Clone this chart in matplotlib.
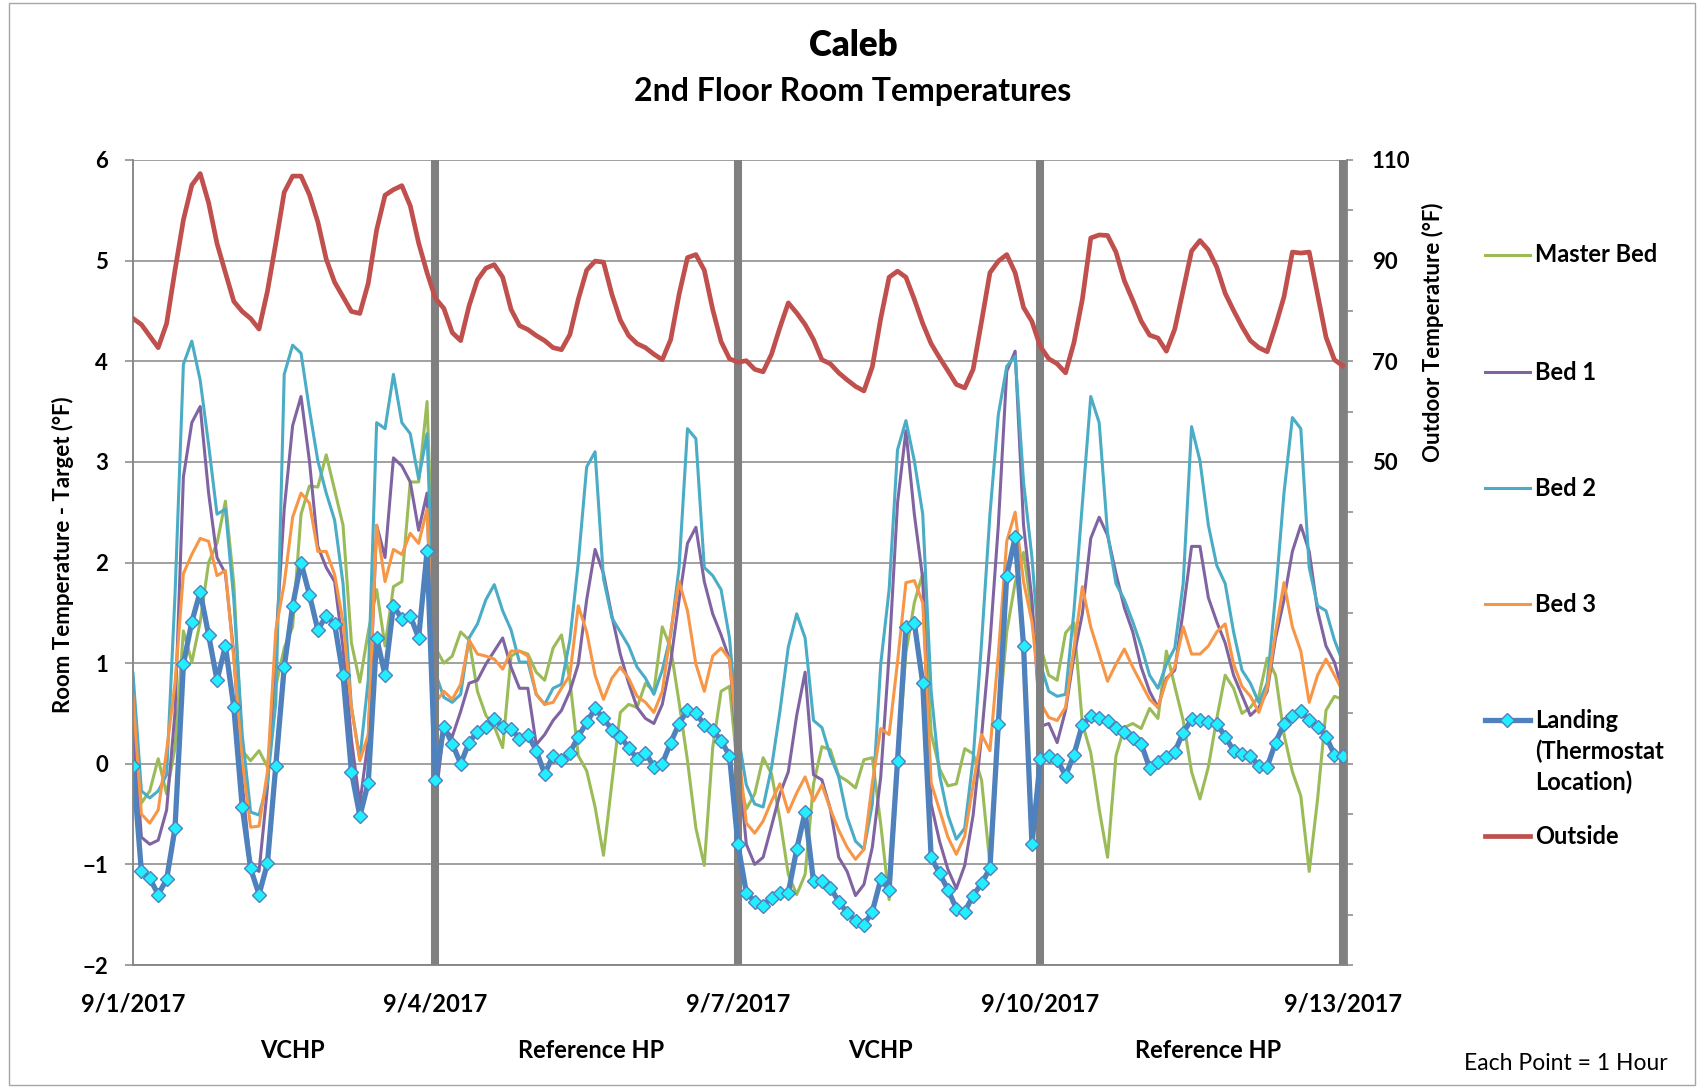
import numpy as np
import matplotlib
matplotlib.use("Agg")
from matplotlib import pyplot as plt
from matplotlib.lines import Line2D
from matplotlib.patches import Rectangle
import matplotlib.transforms as mtransforms

# readings every 2 hours from 9/1/2017 00:00 to 9/13/2017 00:00
hours = np.arange(0, 289, 2)

master_bed = [
    0.29, -0.39, -0.27, 0.05, -0.3, 0.16, 1.32, 1.01, 1.41, 2.0, 2.19, 2.61, 1.79, 0.13, 0.03, 0.13, -0.03, 0.77, 1.15,
    1.36, 2.48, 2.76, 2.75, 3.07, 2.72, 2.37, 1.2, 0.81, 1.31, 1.73, 1.17, 1.76, 1.81, 2.8, 2.8, 3.6, 1.15,
    1.0, 1.07, 1.31, 1.23, 0.72, 0.48, 0.37, 0.16, 1.07, 1.12, 1.09, 0.91, 0.83, 1.15, 1.28, 0.83, 0.08, -0.07,
    -0.43, -0.91, -0.19, 0.51, 0.59, 0.56, 0.8, 0.72, 1.36, 1.15, 0.61, 0.03, -0.64, -1.01, 0.16, 0.72, 0.77, -0.1,
    -0.45, -0.3, 0.06, -0.1, -0.55, -1.1, -1.3, -1.1, -0.2, 0.17, 0.14, -0.12, -0.17, -0.24, 0.04, 0.06, -0.6, -1.35,
    -0.05, 1.1, 1.6, 1.89, 0.3, -0.05, -0.22, -0.2, 0.15, 0.1, -0.16, -1.0, 0.35, 1.31, 1.8, 2.1, 1.5, 1.17,
    0.88, 0.83, 1.3, 1.4, 0.4, 0.11, -0.45, -0.93, 0.08, 0.36, 0.4, 0.35, 0.55, 0.45, 1.12, 0.77, 0.43, -0.08,
    -0.35, -0.03, 0.45, 0.88, 0.75, 0.5, 0.56, 0.67, 1.05, 0.88, 0.29, -0.08, -0.32, -1.07, -0.35, 0.53, 0.67, 0.64,
]
bed_1 = [
    0.4, -0.73, -0.8, -0.76, -0.46, 0.51, 2.85, 3.39, 3.55, 2.69, 2.05, 1.89, 1.09, -0.19, -1.02, -1.07, -0.24, 1.2,
    2.53, 3.36, 3.65, 3.01, 2.16, 1.95, 1.81, 1.15, 0.24, -0.4, 0.24, 2.37, 2.05, 3.04, 2.96, 2.8, 2.32, 2.69, -0.37,
    0.35, 0.27, 0.52, 0.8, 0.83, 0.99, 1.12, 1.25, 0.96, 0.75, 0.75, 0.19, 0.29, 0.43, 0.53, 0.72, 0.99, 1.63,
    2.13, 1.89, 1.47, 1.09, 0.8, 0.56, 0.45, 0.4, 0.59, 1.01, 1.63, 2.19, 2.35, 1.81, 1.49, 1.28, 1.04, 0.08,
    -0.8, -1.0, -0.93, -0.62, -0.3, -0.08, 0.48, 0.91, -0.11, -0.16, -0.45, -0.93, -1.07, -1.31, -1.2, -0.83, -0.13,
    1.09, 2.59, 3.31, 2.48, 1.84, -0.4, -0.77, -1.05, -1.24, -1.01, -0.51, 0.27, 1.2, 2.37, 3.9, 4.1, 2.37, 1.63, 0.37,
    0.4, 0.21, 0.53, 1.07, 1.49, 2.24, 2.45, 2.27, 1.89, 1.55, 1.31, 0.96, 0.72, 0.56, 0.85, 0.93, 1.52, 2.16,
    2.16, 1.65, 1.41, 1.2, 0.88, 0.68, 0.48, 0.56, 0.72, 1.25, 1.63, 2.11, 2.37, 2.11, 1.52, 1.17, 1.01, 0.72,
]
bed_2 = [
    0.9, -0.27, -0.34, -0.27, -0.11, 1.68, 3.97, 4.2, 3.81, 3.17, 2.48, 2.53, 1.63, 0.29, -0.48, -0.51, -0.19, 0.61,
    3.87, 4.16, 4.08, 3.52, 3.01, 2.69, 2.42, 1.79, 0.56, 0.05, 0.83, 3.39, 3.33, 3.87, 3.39, 3.28, 2.83, 3.28, 0.9,
    0.66, 0.61, 0.69, 1.25, 1.39, 1.63, 1.78, 1.52, 1.33, 1.01, 1.01, 0.69, 0.59, 0.75, 0.79, 1.23, 2.0, 2.95,
    3.1, 1.84, 1.45, 1.31, 1.17, 0.96, 0.85, 0.69, 0.93, 1.28, 1.95, 3.33, 3.23, 1.95, 1.87, 1.73, 1.25, 0.3,
    -0.21, -0.4, -0.43, -0.04, 0.52, 1.16, 1.49, 1.25, 0.43, 0.36, 0.08, -0.13, -0.53, -0.77, -0.85, -0.4, 0.99,
    1.73, 3.12, 3.41, 3.01, 2.48, 0.72, -0.11, -0.51, -0.75, -0.64, 0.05, 1.2, 2.48, 3.47, 3.95, 4.05, 2.8, 2.05, 0.99,
    0.72, 0.67, 0.69, 1.52, 2.59, 3.65, 3.39, 2.29, 1.79, 1.63, 1.41, 1.17, 0.88, 0.75, 0.99, 1.15, 1.79, 3.35,
    3.01, 2.37, 1.97, 1.79, 1.31, 0.93, 0.8, 0.61, 0.8, 1.68, 2.69, 3.44, 3.33, 1.95, 1.57, 1.52, 1.23, 1.01,
]
bed_3 = [
    0.67, -0.5, -0.59, -0.46, 0.13, 0.8, 1.89, 2.08, 2.24, 2.21, 1.87, 1.92, 1.04, 0.03, -0.63, -0.62, -0.08, 1.33,
    1.79, 2.45, 2.69, 2.59, 2.11, 2.11, 1.88, 1.41, 0.56, 0.03, 0.29, 2.37, 1.81, 2.13, 2.08, 2.29, 2.19, 2.53, 0.61,
    0.72, 0.64, 0.79, 1.23, 1.09, 1.07, 1.04, 0.94, 1.12, 1.12, 1.07, 0.69, 0.59, 0.61, 0.75, 0.88, 1.57, 1.31,
    0.88, 0.64, 0.85, 0.96, 0.85, 0.67, 0.61, 0.51, 0.72, 1.31, 1.81, 1.52, 0.99, 0.72, 1.07, 1.15, 1.04, 0.19,
    -0.59, -0.69, -0.57, -0.37, -0.2, -0.48, -0.29, -0.13, -0.37, -0.21, -0.45, -0.66, -0.83, -0.95, -0.85, -0.19,
    0.35, 0.29, 1.01, 1.8, 1.82, 1.6, -0.19, -0.46, -0.73, -0.9, -0.72, -0.21, 0.29, 0.13, 1.09, 2.21, 2.5, 1.81,
    1.41, 0.61,
    0.46, 0.43, 0.56, 1.15, 1.76, 1.36, 1.09, 0.82, 0.99, 1.14, 0.96, 0.8, 0.64, 0.56, 0.83, 0.96, 1.36, 1.09,
    1.09, 1.17, 1.31, 1.39, 0.99, 0.77, 0.67, 0.51, 0.75, 1.31, 1.8, 1.36, 1.12, 0.61, 0.88, 1.04, 0.88, 0.72,
]
landing = [
    -0.02, -1.07, -1.14, -1.3, -1.15, -0.64, 0.99, 1.41, 1.71, 1.28, 0.83, 1.17, 0.56, -0.43, -1.04, -1.3, -0.99,
    -0.02, 0.96, 1.57, 2.0, 1.68, 1.33, 1.47, 1.39, 0.88, -0.08, -0.52, -0.19, 1.25, 0.88, 1.57, 1.44, 1.47, 1.25,
    2.11, -0.16,
    0.37, 0.2, 0.0, 0.21, 0.32, 0.37, 0.44, 0.37, 0.35, 0.25, 0.29, 0.13, -0.1, 0.08, 0.04, 0.11, 0.27, 0.41,
    0.55, 0.45, 0.34, 0.27, 0.16, 0.05, 0.11, -0.03, 0.0, 0.21, 0.4, 0.53, 0.5, 0.39, 0.34, 0.23, 0.08, -0.8,
    -1.28, -1.37, -1.41, -1.33, -1.28, -1.28, -0.85, -0.48, -1.17, -1.17, -1.23, -1.37, -1.48, -1.56, -1.6, -1.47,
    -1.15, -1.25, 0.03, 1.36, 1.4, 0.8, -0.93, -1.09, -1.25, -1.44, -1.47, -1.31, -1.19, -1.04, 0.4, 1.87, 2.25,
    1.17, -0.8, 0.05,
    0.08, 0.04, -0.12, 0.09, 0.39, 0.47, 0.45, 0.42, 0.36, 0.32, 0.26, 0.2, -0.04, 0.02, 0.07, 0.12, 0.31, 0.44,
    0.43, 0.41, 0.4, 0.27, 0.13, 0.1, 0.08, -0.02, -0.03, 0.21, 0.4, 0.47, 0.52, 0.43, 0.37, 0.27, 0.09, 0.08,
]
outside = [
    78.5, 77.3, 75.0, 72.7, 77.5, 88.1, 98.1, 105.0, 107.3, 101.5, 93.4, 87.6, 81.9, 79.9, 78.5, 76.4, 83.9, 93.5,
    103.6, 106.8, 106.8, 103.1, 97.7, 90.3, 85.7, 82.8, 79.9, 79.5, 85.5, 96.1, 103.0, 104.1, 104.9, 100.9, 93.5,
    87.6, 82.5,
    80.5, 75.7, 74.1, 81.0, 86.2, 88.5, 89.2, 86.7, 80.3, 77.1, 76.3, 75.1, 74.1, 72.7, 72.3, 75.3, 82.3, 88.1,
    89.9, 89.7, 83.3, 78.2, 75.1, 73.5, 72.7, 71.4, 70.3, 74.3, 83.3, 90.6, 91.2, 88.1, 80.3, 73.9, 70.5, 69.8,
    70.1, 68.4, 67.9, 71.4, 76.7, 81.6, 79.6, 77.3, 74.3, 70.3, 69.5, 67.7, 66.3, 65.0, 64.1, 68.9, 78.5, 86.7,
    87.9, 86.7, 82.3, 77.5, 73.5, 70.7, 68.1, 65.4, 64.7, 68.4, 77.9, 87.6, 89.9, 91.2, 87.6, 80.7, 77.9, 72.9,
    70.5, 69.5, 67.7, 73.7, 82.3, 94.5, 95.1, 95.0, 91.7, 86.0, 82.1, 78.0, 75.2, 74.6, 72.0, 76.4, 84.1, 91.9,
    94.0, 92.1, 88.7, 83.5, 80.1, 76.9, 74.1, 72.7, 71.9, 77.1, 82.8, 91.7, 91.5, 91.7, 83.3, 74.8, 70.3, 69.1,
]

date_hours = [0, 72, 144, 216, 288]
date_labels = ["9/1/2017", "9/4/2017", "9/7/2017", "9/10/2017", "9/13/2017"]
switch_hours = [72, 144, 216, 288]
period_names = ["VCHP", "Reference HP", "VCHP", "Reference HP"]
period_hours = [38, 109, 178, 256]

GRAY = "#868686"
FONT = ["Lato", "DejaVu Sans"]
plt.rcParams["font.family"] = FONT

W, H = 1704, 1088
fig = plt.figure(figsize=(W / 100, H / 100), dpi=100)
ax = fig.add_axes([133 / W, 1 - 965 / H, (1347 - 133) / W, (965 - 160) / H])
ax2 = ax.twinx()

series = [
    ("Master Bed", master_bed, "#9BBB59"),
    ("Bed 1", bed_1, "#8064A2"),
    ("Bed 2", bed_2, "#4BACC6"),
    ("Bed 3", bed_3, "#F79646"),
]
for name, vals, col in series:
    ax.plot(hours, vals, color=col, lw=2.2, zorder=3, solid_joinstyle="round")
ax.plot(hours, landing, color="#4F81BD", lw=3.8, marker="D", ms=7.0,
        mfc="#22EEFF", mec="#4F81BD", mew=1.0, zorder=5)
ax2.plot(hours, outside, color="#C0504D", lw=3.4, zorder=3, solid_joinstyle="round")

for h in switch_hours:
    ax.axvline(h, color="#808080", lw=5.8, zorder=4)

ax.set_xlim(0, 289)
ax.set_ylim(-2, 6)
ax2.set_ylim(-50, 110)
ax.set_yticks(range(-2, 7))
ax.yaxis.grid(True, color=GRAY, lw=1.1)
ax.set_axisbelow(True)
ax.set_xticks(date_hours)
ax.set_xticklabels(date_labels)
ax.tick_params(axis="x", length=0, pad=20, labelsize=17)
ax.tick_params(axis="y", length=6, width=1.1, color=GRAY, pad=12, labelsize=16)
for lab in ax.get_xticklabels() + ax.get_yticklabels():
    lab.set_fontweight("bold")

rt = list(range(-50, 111, 10))
ax2.set_yticks(rt)
ax2.set_yticklabels([str(t) if t >= 50 and t % 20 == 10 else "" for t in rt])
ax2.tick_params(axis="y", length=4, width=1.1, color=GRAY, pad=14, labelsize=16)
for lab in ax2.get_yticklabels():
    lab.set_fontweight("bold")

for a in (ax, ax2):
    for s in a.spines.values():
        s.set_color(GRAY)
        s.set_linewidth(1.1)
    a.spines["top"].set_visible(False)

fig.text(853 / W, 1 - 46 / H, "Caleb", ha="center", va="center", fontsize=25, fontweight="heavy")
fig.text(853 / W, 1 - 92 / H, "2nd Floor Room Temperatures", ha="center", va="center",
         fontsize=23, fontweight="bold")
fig.text(63 / W, 1 - 555 / H, "Room Temperature - Target (°F)", rotation=90, ha="center",
         va="center", fontsize=16, fontweight="bold")
fig.text(1433 / W, 1 - 332 / H, "Outdoor Temperature (°F)", rotation=90, ha="center",
         va="center", fontsize=16, fontweight="bold")

trans = mtransforms.blended_transform_factory(ax.transData, ax.transAxes)
for name, h in zip(period_names, period_hours):
    ax.text(h, -0.106, name, transform=trans, ha="center", va="center", fontsize=17, fontweight="bold")
fig.text(1566 / W, 1 - 1064 / H, "Each Point = 1 Hour", ha="center", va="center", fontsize=16.5)

# legend
leg_rows = [
    (255, ["Master Bed"], dict(color="#9BBB59", lw=2.2)),
    (372, ["Bed 1"], dict(color="#8064A2", lw=2.2)),
    (488, ["Bed 2"], dict(color="#4BACC6", lw=2.2)),
    (604, ["Bed 3"], dict(color="#F79646", lw=2.2)),
    (720, ["Landing", "(Thermostat", "Location)"],
     dict(color="#4F81BD", lw=3.8, marker="D", ms=7.0, mfc="#22EEFF", mec="#4F81BD", mew=1.0,
          markevery=[1])),
    (836, ["Outside"], dict(color="#C0504D", lw=3.4)),
]
for y, lines, style in leg_rows:
    fig.add_artist(Line2D([1485 / W, 1507 / W, 1530 / W], [1 - y / H] * 3,
                          transform=fig.transFigure, **style))
    for i, t in enumerate(lines):
        fig.text(1535 / W, 1 - (y + 31 * i) / H, t, ha="left", va="center", fontsize=17,
                 fontweight="bold")

fig.add_artist(Rectangle((9 / W, 3 / H), (1695 - 9) / W, (1085 - 3) / H, transform=fig.transFigure,
                         fill=False, edgecolor="#A6A6A6", lw=1.0))

fig.savefig("out.png", dpi=100)
